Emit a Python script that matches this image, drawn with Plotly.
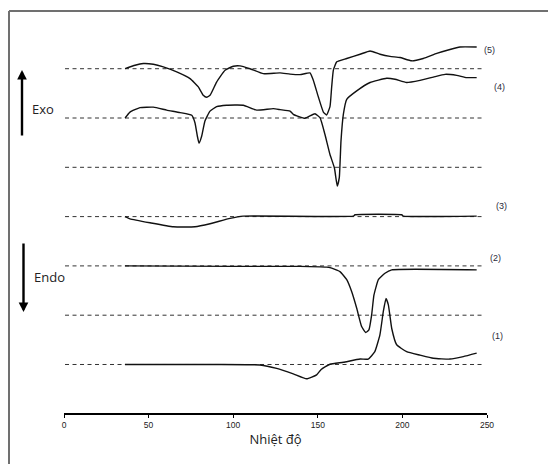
import plotly.graph_objects as go

# ---- data (temperature in °C, heat-flow deviation from each baseline, a.u.) ----
T1 = [36, 60, 90, 115.8, 125.7, 135.5, 143.4, 149.3, 152, 157.2, 165.1, 175, 179.8, 183.7,
      186.7, 188.7, 190.3, 191.7, 193.7, 196.6, 202.5, 210.4, 218.3, 228.1, 236, 243.9]
H1 = [0, 0, 0, -0.1, -0.8, -1.9, -2.9, -2.1, -1.0, 0.05, 0.45, 1.1, 1.1, 2.6,
      6.0, 10.7, 13.4, 12.1, 7.3, 4.0, 2.6, 1.9, 1.26, 1.1, 1.6, 2.3]

T2 = [36, 100, 139.5, 155.2, 157.2, 163.1, 167.1, 170, 173, 175.9, 178.3, 180.2, 181.8,
      183.2, 185.8, 189.7, 193.7, 243.9]
H2 = [0, -0.1, -0.1, -0.25, -0.35, -1.15, -2.8, -5.2, -8.6, -12.3, -13.5, -13, -10,
      -5.9, -2.8, -1.5, -0.8, -0.8]

T3 = [36, 39, 50.8, 64.6, 77.4, 86.3, 98.1, 105.9, 171, 172, 199.6, 200.6, 243.9]
H3 = [0, -0.45, -1.25, -2.07, -2.07, -1.45, -0.37, 0.1, 0.1, 0.37, 0.37, 0.1, 0.1]

T4 = [36.1, 39, 44.9, 52.8, 60.7, 68.6, 75.5, 77.4, 78.8, 79.8, 81.4, 83.3, 86.3, 90.2,
      96.1, 106, 113.9, 123.7, 127.7, 133.6, 135.5, 142.4, 148.3, 151.3, 154.2, 157.2,
      159.8, 161.5, 162.7, 163.7, 165.1, 167.1, 173, 180.9, 190.7, 195.6, 202.5, 210.4,
      218.3, 225.2, 232.1, 238, 243.9]
H4 = [0, 1.2, 2.1, 2.2, 1.6, 1.1, 0.55, -0.95, -3.65, -5.1, -3.65, -0.6, 1.4, 2.3,
      2.6, 2.6, 1.6, 1.9, 1.7, 1.4, 0.75, -0.06, 0.87, 0.06, -3.3, -7.4,
      -10.1, -13.8, -12.1, -4.7, 0.75, 3.8, 5.5, 7.2, 8.06, 7.86, 7.2, 7.64,
      8.3, 8.86, 8.65, 8.2, 8.2]

T5 = [36.1, 42, 46.9, 52.8, 58.7, 66.6, 74.5, 79.4, 82.3, 84.3, 86.3, 90.2, 95.2, 100.1,
      104, 109.9, 117.8, 127.7, 133.6, 139.5, 145.4, 147.3, 150.3, 153.3, 155.2, 157.2,
      158.2, 159.2, 161.2, 167.1, 175, 180.9, 186.8, 192.7, 198.6, 205.5, 212.3, 220.3,
      228.1, 234, 243.9]
H5 = [0, 0.7, 1.05, 0.9, 0.37, -0.65, -2.0, -3.7, -5.4, -5.8, -5.4, -2.7, -0.3, 0.5,
      0.57, 0, -1.0, -0.85, -1.1, -1.2, -0.85, -2.3, -5.7, -8.8, -9.4, -7.7,
      -3.7, -0.3, 1.4, 2.07, 2.94, 3.6, 2.94, 2.5, 2.27, 1.6, 2.07, 3.1,
      3.9, 4.4, 4.4]

curves = [(T1, H1), (T2, H2), (T3, H3), (T4, H4), (T5, H5)]
curve_labels = ["(1)", "(2)", "(3)", "(4)", "(5)"]
curve_offsets = [0, 20, 30, 50, 60]
baselines = [0, 10, 20, 30, 40, 50, 60]
dash_x = [0.6, 248.2]
x_ticks = [0, 50, 100, 150, 200, 250]

# ---- layout geometry (pixels); page body has an 8px margin ----
OFF = 8
W, H = 556, 464
ML, MR, MT, MB = 64 - OFF, 556 - (487 - OFF), 20 - OFF, 464 - (413 - OFF)
PW, PH = W - ML - MR, H - MT - MB


def px(xs):
    return (xs - OFF - ML) / PW


def py(ys):
    return (H - MB - (ys - OFF)) / PH


fig = go.Figure()

for b in baselines:
    fig.add_trace(go.Scatter(x=dash_x, y=[b, b], mode="lines",
                             line=dict(color="#333333", width=1, dash="4px,3.5px"),
                             hoverinfo="skip", showlegend=False))

for (t, h), off in zip(curves, curve_offsets):
    fig.add_trace(go.Scatter(x=t, y=[v + off for v in h], mode="lines",
                             line=dict(color="#111111", width=1.4, shape="spline",
                                       smoothing=0.4),
                             showlegend=False))

label_pos = [(505, 343), (503, 258), (509, 206), (507, 80), (497, 43)]
annotations = []
for lab, (lx, ly) in zip(curve_labels, label_pos):
    annotations.append(dict(x=px(lx), y=py(ly), xref="paper", yref="paper", text=lab,
                            showarrow=False, font=dict(family="Liberation Sans", size=9,
                                                       color="#2b2b3a")))

# Exo / Endo arrows
annotations.append(dict(x=px(22), y=py(70), xref="paper", yref="paper", text="",
                        showarrow=True, ax=0, ay=67, arrowhead=2, arrowsize=0.8,
                        arrowwidth=2.4, arrowcolor="#000000"))
annotations.append(dict(x=px(23.5), y=py(312), xref="paper", yref="paper", text="",
                        showarrow=True, ax=0, ay=-70, arrowhead=2, arrowsize=0.8,
                        arrowwidth=2.4, arrowcolor="#000000"))
annotations.append(dict(x=px(30), y=py(98), xref="paper", yref="paper", text="Exo",
                        showarrow=False, xanchor="left",
                        font=dict(family="Open Sans", size=13, color="#222222")))
annotations.append(dict(x=px(32), y=py(277), xref="paper", yref="paper", text="Endo",
                        showarrow=False, xanchor="left",
                        font=dict(family="Open Sans", size=13, color="#222222")))

shapes = [
    dict(type="line", xref="paper", yref="paper", x0=px(9), x1=px(570), y0=py(11), y1=py(11),
         line=dict(color="#707070", width=2)),
    dict(type="line", xref="paper", yref="paper", x0=px(9), x1=px(9), y0=py(11), y1=py(480),
         line=dict(color="#707070", width=2)),
]

fig.update_layout(
    width=W, height=H,
    margin=dict(l=ML, r=MR, t=MT, b=MB),
    paper_bgcolor="white", plot_bgcolor="white",
    annotations=annotations, shapes=shapes,
    xaxis=dict(range=[0, 250], tickvals=x_ticks, ticktext=[str(v) for v in x_ticks],
               showgrid=False, zeroline=False, showline=True, linecolor="#000000",
               linewidth=1.5, ticks="outside", ticklen=3, tickwidth=1, tickcolor="#000000",
               tickfont=dict(family="Liberation Sans", size=8.5, color="#222222"),
               title=dict(text="Nhiệt độ", standoff=6,
                          font=dict(family="Open Sans", size=13, color="#222222"))),
    yaxis=dict(range=[-9.84, 69.88], visible=False, showgrid=False, zeroline=False),
)

fig.write_html("out.html")
